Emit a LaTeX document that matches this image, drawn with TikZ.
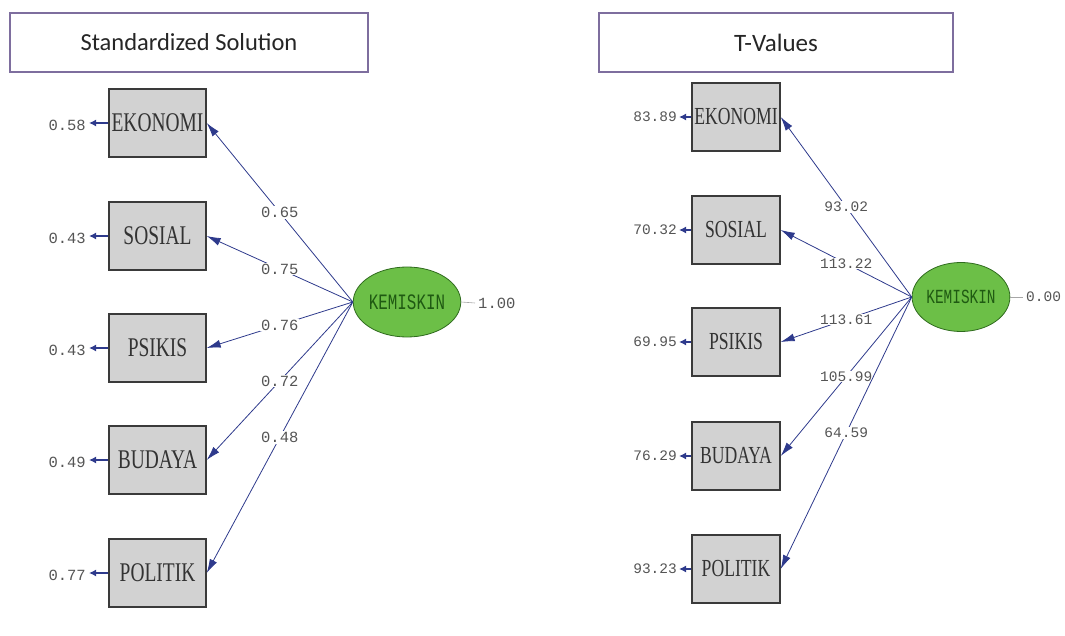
\documentclass[tikz,border=0pt]{standalone}
\usepackage{fontspec}
\setmainfont{Liberation Serif}
\newfontfamily\titlefont{Carlito}
\newfontfamily\boxfont[FakeStretch=0.72]{Liberation Serif}
\newfontfamily\numfont{Liberation Mono}
\newfontfamily\latfont[FakeStretch=0.72]{Liberation Mono}
\usetikzlibrary{arrows.meta,shapes.geometric}
\definecolor{frame}{HTML}{7E6E9E}
\definecolor{boxfill}{HTML}{D2D2D2}
\definecolor{boxline}{HTML}{3A3A3A}
\definecolor{latfill}{HTML}{6CBF47}
\definecolor{latline}{HTML}{2F6B1E}
\definecolor{lattext}{HTML}{1F5A12}
\definecolor{navy}{HTML}{2E3A8C}
\definecolor{labgray}{HTML}{555555}
\begin{document}
\begin{tikzpicture}[x=1pt,y=-1pt,
  titlebox/.style={draw=frame, line width=1.8pt, fill=white, minimum height=59pt, inner sep=0pt, text=black!85},
  obsbox/.style={draw=boxline, line width=1.4pt, fill=boxfill, minimum height=68pt, inner sep=0pt, text=black!80},
  latent/.style={ellipse, draw=latline, line width=0.8pt, fill=latfill, inner sep=0pt, text=lattext},
  load/.style={draw=navy, line width=0.8pt, -{Latex[length=14pt,width=8pt]}},
  errarr/.style={draw=navy, line width=1.8pt, -{Latex[length=7pt,width=7pt]}},
  lab/.style={fill=white, inner sep=1pt, text=labgray},
  tail/.style={draw=gray!70, line width=0.6pt}
]
\useasboundingbox (0,0) rectangle (1065,636);

% ---------------- Left panel ----------------
\node[titlebox, minimum width=358pt, font=\titlefont\fontsize{24.5}{30}\selectfont] (tl) at (189,42.5) {Standardized Solution};

\tikzset{lbox/.style={obsbox, minimum width=97pt, font=\boxfont\fontsize{27}{30}\selectfont}}
\node[lbox] (l1) at (157.5,123) {EKONOMI};
\node[lbox] (l2) at (157.5,236) {SOSIAL};
\node[lbox] (l3) at (157.5,348) {PSIKIS};
\node[lbox] (l4) at (157.5,460) {BUDAYA};
\node[lbox] (l5) at (157.5,573) {POLITIK};

\node[latent, minimum width=97pt, minimum height=70pt, font=\latfont\fontsize{22}{24}\selectfont] (kl) at (407,302) {KEMISKIN};
\node[text=labgray, font=\numfont\fontsize{15.5}{18}\selectfont, anchor=west, inner sep=0pt] (kl1) at (478,303) {1.00};
\draw[tail] (kl.east) -- ([xshift=-3pt]kl1.west);

\tikzset{llab/.style={lab, font=\numfont\fontsize{15.5}{18}\selectfont}}
\draw[load] (kl.west) -- node[llab]{0.65} (l1.east);
\draw[load] (kl.west) -- node[llab]{0.75} (l2.east);
\draw[load] (kl.west) -- node[llab]{0.76} (l3.east);
\draw[load] (kl.west) -- node[llab]{0.72} (l4.east);
\draw[load] (kl.west) -- node[llab]{0.48} (l5.east);

\tikzset{lerr/.style={text=labgray, font=\numfont\fontsize{15.5}{18}\selectfont, anchor=east, inner sep=0pt}}
\node[lerr] (e1) at (86,125) {0.58};
\node[lerr] (e2) at (86,238) {0.43};
\node[lerr] (e3) at (86,350) {0.43};
\node[lerr] (e4) at (86,462) {0.49};
\node[lerr] (e5) at (86,575) {0.77};
\foreach \i in {1,...,5} {\draw[errarr, shorten >=3pt] (l\i.west) -- (l\i.west -| e\i.east);}

% ---------------- Right panel ----------------
\node[titlebox, minimum width=354pt, font=\titlefont\fontsize{25}{30}\selectfont] (tr) at (776,42.5) {T-Values};

\tikzset{rbox/.style={obsbox, minimum width=88pt, font=\boxfont\fontsize{24.5}{28}\selectfont}}
\node[rbox] (r1) at (736,117) {EKONOMI};
\node[rbox] (r2) at (736,230) {SOSIAL};
\node[rbox] (r3) at (736,342) {PSIKIS};
\node[rbox] (r4) at (736,456) {BUDAYA};
\node[rbox] (r5) at (736,569) {POLITIK};

\node[latent, minimum width=88pt, minimum height=69pt, font=\latfont\fontsize{20}{22}\selectfont] (kr) at (961,297) {KEMISKIN};
\node[text=labgray, font=\numfont\fontsize{14.5}{17}\selectfont, anchor=west, inner sep=0pt] (kr1) at (1026,297) {0.00};
\draw[tail] (kr.east) -- ([xshift=-3pt]kr1.west);

\tikzset{rlab/.style={lab, font=\numfont\fontsize{14.5}{17}\selectfont}}
\draw[load] (kr.west) -- node[rlab]{93.02} (r1.east);
\draw[load] (kr.west) -- node[rlab]{113.22} (r2.east);
\draw[load] (kr.west) -- node[rlab]{113.61} (r3.east);
\draw[load] (kr.west) -- node[rlab]{105.99} (r4.east);
\draw[load] (kr.west) -- node[rlab]{64.59} (r5.east);

\tikzset{rerr/.style={text=labgray, font=\numfont\fontsize{14.5}{17}\selectfont, anchor=east, inner sep=0pt}}
\node[rerr] (f1) at (677,117) {83.89};
\node[rerr] (f2) at (677,230) {70.32};
\node[rerr] (f3) at (677,342) {69.95};
\node[rerr] (f4) at (677,456) {76.29};
\node[rerr] (f5) at (677,569) {93.23};
\foreach \i in {1,...,5} {\draw[errarr, shorten >=2pt] (r\i.west) -- (r\i.west -| f\i.east);}
\end{tikzpicture}
\end{document}
